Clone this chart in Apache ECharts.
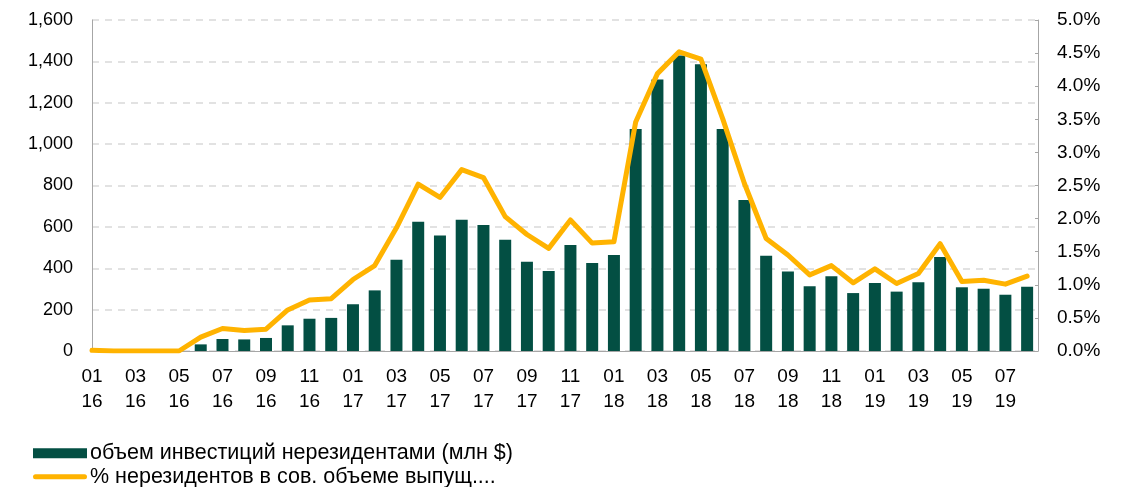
<!DOCTYPE html>
<html>
<head>
<meta charset="utf-8">
<script src="https://cdn.jsdelivr.net/npm/echarts@6/dist/echarts.min.js"></script>
<style>
  html, body { margin: 0; padding: 0; background: #fff; }
  #chart { width: 1133px; height: 487px; }
</style>
</head>
<body>
<div id="chart"></div>
<script>
'use strict';

// ── Data ──────────────────────────────────────────────────────────────────────
const periods = [
  '01\n16','02\n16','03\n16','04\n16','05\n16','06\n16','07\n16','08\n16','09\n16','10\n16','11\n16','12\n16',
  '01\n17','02\n17','03\n17','04\n17','05\n17','06\n17','07\n17','08\n17','09\n17','10\n17','11\n17','12\n17',
  '01\n18','02\n18','03\n18','04\n18','05\n18','06\n18','07\n18','08\n18','09\n18','10\n18','11\n18','12\n18',
  '01\n19','02\n19','03\n19','04\n19','05\n19','06\n19','07\n19','08\n19'
];

// объем инвестиций нерезидентами (млн $)
const investVolume = [
  0, 0, 0, 0, 0, 32, 58, 56, 63, 124, 156, 160,
  226, 293, 441, 625, 558, 635, 609, 538, 432, 387, 512, 425,
  464, 1073, 1312, 1428, 1386, 1073, 730, 461, 384, 313, 361, 280,
  329, 287, 332, 454, 308, 301, 272, 311
];

// % нерезидентов в сов. объеме выпуска
const nonResidentShare = [
  0.01, 0, 0, 0, 0, 0.21, 0.34, 0.31, 0.33, 0.62, 0.77, 0.79,
  1.08, 1.29, 1.86, 2.52, 2.32, 2.74, 2.62, 2.03, 1.76, 1.55, 1.98, 1.63,
  1.65, 3.46, 4.19, 4.52, 4.41, 3.51, 2.53, 1.70, 1.45, 1.15, 1.29, 1.03,
  1.24, 1.02, 1.17, 1.62, 1.05, 1.07, 1.01, 1.13
];

const barName  = 'объем инвестиций нерезидентами (млн $)';
const lineName = '% нерезидентов в сов. объеме выпущ....';

// ── Chart ─────────────────────────────────────────────────────────────────────
const chart = echarts.init(document.getElementById('chart'), null, { renderer: 'canvas' });

const font  = 'Liberation Sans, Arial, sans-serif';
const gridC = '#d9d9d9';
const axisC = '#a6a6a6';
const green = '#034f43';
const amber = '#ffb300';

// line legend icon: 5px stroke with round ends, centred in a 54x10 box
const lineIcon = 'path://M0,0M54,10M2.5,2.5L51.5,2.5A2.5,2.5,0,0,1,51.5,7.5L2.5,7.5A2.5,2.5,0,0,1,2.5,2.5Z';

chart.setOption({
  animation: false,
  backgroundColor: '#fff',
  textStyle: { fontFamily: font },
  grid: { left: 92, right: 95, top: 20, bottom: 136 },
  legend: {
    orient: 'vertical',
    left: 33,
    top: 442,
    height: 60,
    padding: 0,
    itemWidth: 54,
    itemHeight: 10,
    itemGap: 1,
    textStyle: { fontFamily: font, fontSize: 21.5, lineHeight: 22.5, color: '#000', padding: [0, 0, 0, -2] },
    data: [
      { name: barName, icon: 'rect', itemStyle: { color: green, borderWidth: 0, decal: 'none' } },
      { name: lineName, icon: lineIcon, itemStyle: { color: amber, borderWidth: 0 } }
    ]
  },
  xAxis: {
    type: 'value',
    min: 0,
    max: 43.5,
    interval: 2,
    splitLine: { show: false },
    axisTick: { show: false },
    axisLine: { show: true, onZero: false, lineStyle: { color: axisC, width: 1 } },
    axisLabel: {
      fontFamily: font,
      fontSize: 19,
      color: '#000',
      lineHeight: 25,
      margin: 13,
      showMaxLabel: false,
      formatter: v => (Number.isInteger(v) && periods[v]) ? periods[v] : ''
    }
  },
  yAxis: [
    {
      type: 'value',
      min: 0,
      max: 1600,
      interval: 200,
      axisLine: { show: true, lineStyle: { color: axisC, width: 1 } },
      axisTick: { show: false },
      splitLine: { show: true, lineStyle: { color: gridC, width: 1.5, type: [7, 6] } },
      axisLabel: {
        fontFamily: font, fontSize: 18, color: '#000', margin: 19,
        formatter: v => v.toLocaleString('en-US')
      }
    },
    {
      type: 'value',
      position: 'right',
      min: 0,
      max: 5,
      interval: 0.5,
      axisLine: { show: true, lineStyle: { color: axisC, width: 1 } },
      axisTick: { show: true, inside: true, length: 3, lineStyle: { color: axisC } },
      splitLine: { show: false },
      axisLabel: {
        fontFamily: font, fontSize: 19, color: '#000', margin: 19,
        formatter: v => v.toFixed(1) + '%'
      }
    }
  ],
  series: [
    {
      name: barName,
      type: 'bar',
      yAxisIndex: 0,
      barWidth: 12,
      itemStyle: { color: green },
      data: investVolume.map((v, i) => [i, v])
    },
    {
      name: lineName,
      type: 'line',
      yAxisIndex: 1,
      symbol: 'none',
      z: 3,
      lineStyle: { color: amber, width: 5, join: 'round', cap: 'round' },
      itemStyle: { color: amber },
      data: nonResidentShare.map((v, i) => [i, v])
    }
  ]
});
</script>
</body>
</html>
